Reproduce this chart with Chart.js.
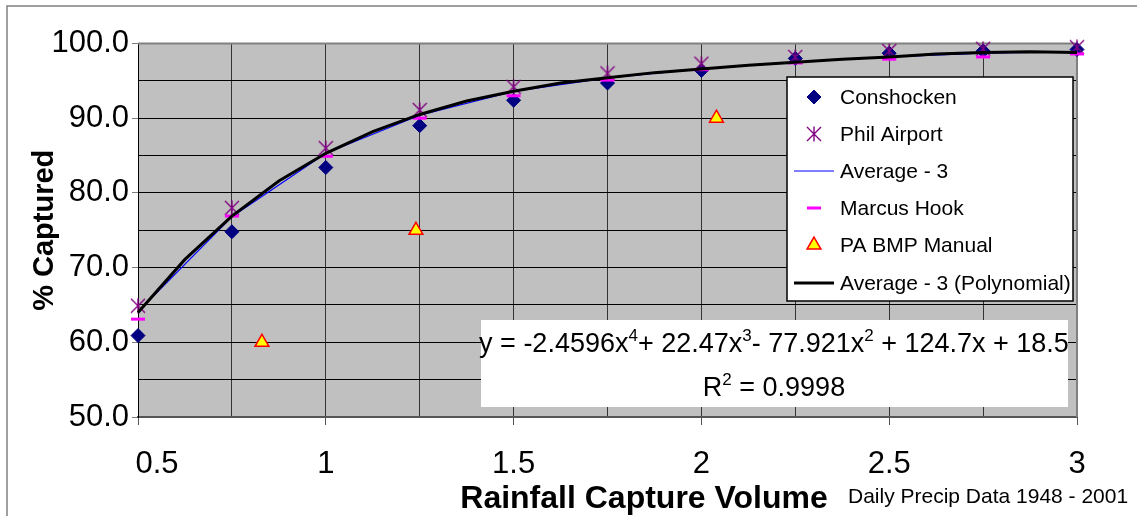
<!DOCTYPE html>
<html>
<head>
<meta charset="utf-8">
<script src="https://cdn.jsdelivr.net/npm/chart.js@4.4.1/dist/chart.umd.min.js"></script>
<style>
  html, body { margin: 0; padding: 0; background: #ffffff; }
  #wrap { width: 1137px; height: 516px; position: relative; }
</style>
</head>
<body>
<div id="wrap"><canvas id="c" width="1137" height="516"></canvas></div>
<script>
// ---- Data ----
const captureVolumes = [0.5, 0.75, 1, 1.25, 1.5, 1.75, 2, 2.25, 2.5, 2.75, 3];
const conshocken  = [60.9, 74.8, 83.4, 89.0, 92.4, 94.7, 96.4, 98.0, 98.7, 99.0, 99.2];
const philAirport = [64.9, 78.0, 86.0, 91.1, 94.2, 96.0, 97.3, 98.2, 99.0, 99.3, 99.5];
const marcusHook  = [63.1, 76.9, 84.9, 90.0, 93.0, 95.1, 96.5, 97.4, 97.9, 98.2, 98.6];
const average3    = [64.1, 76.8, 85.3, 90.4, 93.6, 95.4, 96.6, 97.5, 98.2, 98.7, 98.9];
const bmpVolumes  = [0.83, 1.24, 2.04];
const bmpManual   = [60, 75, 90];
const trendVolumes = [0.5, 0.625, 0.75, 0.875, 1, 1.125, 1.25, 1.375, 1.5, 1.625, 1.75,
                      1.875, 2, 2.125, 2.25, 2.375, 2.5, 2.625, 2.75, 2.875, 3];
const trendCaptured = [64.0, 71.1, 76.9, 81.6, 85.3, 88.2, 90.5, 92.3, 93.6, 94.7, 95.4,
                       96.1, 96.6, 97.1, 97.5, 97.9, 98.2, 98.6, 98.8, 98.9, 98.8];
const seriesNames = ['Conshocken', 'Phil Airport', 'Average - 3', 'Marcus Hook', 'PA BMP Manual', 'Average - 3 (Polynomial)'];
const yTickLabels = ['50.0', '60.0', '70.0', '80.0', '90.0', '100.0'];
const xTickLabels = ['0.5', '1', '1.5', '2', '2.5', '3'];
const xTitle = 'Rainfall Capture Volume';
const yTitle = '% Captured';
const footnote = 'Daily Precip Data 1948 - 2001';
const equationParts = [['y = -2.4596x', false], ['4', true], ['+ 22.47x', false], ['3', true],
                       ['- 77.921x', false], ['2', true], [' + 124.7x + 18.5', false]];
const rSquaredParts = [['R', false], ['2', true], [' = 0.9998', false]];

const pts = (xs, ys) => xs.map((x, i) => ({ x: x, y: ys[i] }));
const FONT = '"Liberation Sans", Arial, Helvetica, sans-serif';

// asterisk marker (vertical bar + X)
function makeAsterisk(size, color) {
  const cv = document.createElement('canvas');
  cv.width = size; cv.height = size;
  const g = cv.getContext('2d');
  g.strokeStyle = color; g.lineWidth = 1.4;
  const m = size / 2, r = size / 2 - 1;
  g.beginPath();
  g.moveTo(m, 0.5); g.lineTo(m, size - 0.5);
  g.moveTo(m - r, m - r); g.lineTo(m + r, m + r);
  g.moveTo(m + r, m - r); g.lineTo(m - r, m + r);
  g.stroke();
  return cv;
}
const asterisk = makeAsterisk(16, '#800080');

const datasets = [
  { label: seriesNames[0], data: pts(captureVolumes, conshocken), pointStyle: 'rectRot', pointRadius: 7,
    backgroundColor: '#000080', borderColor: '#000080', pointBorderWidth: 1, showLine: false, order: 5 },
  { label: seriesNames[1], data: pts(captureVolumes, philAirport), pointStyle: asterisk, pointRadius: 8,
    backgroundColor: '#800080', borderColor: '#800080', showLine: false, order: 4 },
  { label: seriesNames[2], data: pts(captureVolumes, average3), showLine: true, pointRadius: 0,
    borderColor: '#0000FF', borderWidth: 1.2, backgroundColor: '#0000FF', tension: 0, order: 1 },
  { label: seriesNames[3], data: pts(captureVolumes, marcusHook), pointStyle: 'line', pointRadius: 7,
    pointBorderWidth: 3, borderColor: '#FF00FF', backgroundColor: '#FF00FF', showLine: false, order: 3 },
  { label: seriesNames[4], data: pts(bmpVolumes, bmpManual), pointStyle: 'triangle', pointRadius: 8,
    pointBorderWidth: 1.5, borderColor: '#FF0000', backgroundColor: '#FFFF00', showLine: false, order: 2 },
  { label: seriesNames[5], data: pts(trendVolumes, trendCaptured), showLine: true, pointRadius: 0,
    borderColor: '#000000', borderWidth: 3, backgroundColor: '#000000', tension: 0, order: 0 }
];
datasets.forEach(d => { d.clip = false; d.pointHoverRadius = d.pointRadius; });

function drawRich(ctx, parts, x, y, size, align) {
  const subSize = Math.round(size * 0.62);
  let total = 0;
  parts.forEach(p => { ctx.font = (p[1] ? subSize : size) + 'px ' + FONT; total += ctx.measureText(p[0]).width; });
  let cx = align === 'center' ? x - total / 2 : x;
  ctx.textBaseline = 'alphabetic';
  ctx.textAlign = 'left';
  parts.forEach(p => {
    ctx.font = (p[1] ? subSize : size) + 'px ' + FONT;
    ctx.fillText(p[0], cx, p[1] ? y - size * 0.42 : y);
    cx += ctx.measureText(p[0]).width;
  });
}

const decorPlugin = {
  id: 'decor',
  beforeDraw(chart) {
    const { ctx, chartArea: a } = chart;
    ctx.save();
    ctx.fillStyle = '#ffffff';
    ctx.fillRect(0, 0, chart.width, chart.height);
    // outer frame
    ctx.strokeStyle = '#808080'; ctx.lineWidth = 1.5;
    ctx.beginPath(); ctx.moveTo(7, chart.height); ctx.lineTo(7, 6); ctx.lineTo(chart.width, 6); ctx.stroke();
    // plot background
    ctx.fillStyle = '#C0C0C0';
    ctx.fillRect(a.left, a.top, a.right - a.left, a.bottom - a.top);
    ctx.restore();
    // first x label sits to the right of the axis corner, as in the reference
    const xs = chart.scales.x;
    const items = xs.getLabelItems ? xs.getLabelItems() : null;
    if (items && items.length && items[0].options && items[0].options.translation && !items[0]._shifted) {
      items[0].options.translation[0] += 19;
      items[0]._shifted = true;
    }
  },
  beforeDatasetsDraw(chart) {
    const { ctx, chartArea: a } = chart;
    ctx.save();
    ctx.strokeStyle = '#808080'; ctx.lineWidth = 2;
    ctx.beginPath(); ctx.moveTo(a.left, a.top); ctx.lineTo(a.right, a.top); ctx.lineTo(a.right, a.bottom); ctx.stroke();
    // equation box
    ctx.fillStyle = '#ffffff';
    ctx.fillRect(481, 320, 587, 87);
    ctx.fillStyle = '#000000';
    drawRich(ctx, equationParts, 774, 352, 27, 'center');
    drawRich(ctx, rSquaredParts, 774, 396, 27, 'center');
    ctx.restore();
  },
  afterDatasetsDraw(chart) {
    const { ctx } = chart;
    ctx.save();
    // legend box
    const L = 787, T = 77, R = 1073, B = 301;
    ctx.fillStyle = '#ffffff'; ctx.fillRect(L, T, R - L, B - T);
    ctx.strokeStyle = '#000000'; ctx.lineWidth = 1.5; ctx.strokeRect(L, T, R - L, B - T);
    const rowY = [97, 134, 171, 208, 245, 283];
    chart.data.datasets.forEach((ds, i) => {
      const y = rowY[i];
      if (ds.showLine) {
        ctx.strokeStyle = ds.borderColor; ctx.lineWidth = ds.borderWidth;
        ctx.beginPath(); ctx.moveTo(794, y); ctx.lineTo(834, y); ctx.stroke();
      } else {
        ctx.fillStyle = ds.backgroundColor; ctx.strokeStyle = ds.borderColor;
        ctx.lineWidth = ds.pointBorderWidth || 1;
        Chart.helpers.drawPoint(ctx, { pointStyle: ds.pointStyle, radius: ds.pointRadius, rotation: 0, borderWidth: ds.pointBorderWidth || 1 }, 814, y);
      }
      ctx.fillStyle = '#000000';
      ctx.font = '21px ' + FONT; ctx.textAlign = 'left'; ctx.textBaseline = 'middle';
      ctx.fillText(ds.label, 840, y + 1);
    });
    // x title and footnote
    ctx.fillStyle = '#000000';
    ctx.textAlign = 'center'; ctx.textBaseline = 'alphabetic';
    ctx.font = 'bold 32px ' + FONT;
    ctx.fillText(xTitle, 644, 508);
    ctx.textAlign = 'left';
    ctx.font = '21px ' + FONT;
    ctx.fillText(footnote, 848, 503);
    ctx.restore();
  }
};

const fmtX = v => { const i = xTickLabels.indexOf(String(Math.round(v * 100) / 100)); return i >= 0 ? xTickLabels[i] : ''; };
const fmtY = v => { const i = yTickLabels.indexOf(Number(v).toFixed(1)); return i >= 0 ? yTickLabels[i] : ''; };

new Chart(document.getElementById('c').getContext('2d'), {
  type: 'scatter',
  data: { datasets: datasets },
  options: {
    responsive: false,
    animation: false,
    devicePixelRatio: 1,
    layout: { padding: { top: 43.5, right: 60, left: 0, bottom: 0 } },
    plugins: { legend: { display: false }, tooltip: { enabled: false }, title: { display: false } },
    scales: {
      x: {
        type: 'linear', min: 0.5, max: 3,
        afterFit: s => { s.height = 99; },
        ticks: { stepSize: 0.25, autoSkip: false, maxRotation: 0, padding: 21, color: '#000000',
                 font: { family: FONT, size: 31 }, callback: fmtX },
        grid: { color: '#333333', lineWidth: 1, drawTicks: true, tickLength: 8,
                tickColor: c => (fmtX(c.tick.value) ? '#555555' : 'rgba(0,0,0,0)') },
        border: { color: '#555555', width: 2 }
      },
      y: {
        type: 'linear', min: 50, max: 100,
        afterFit: s => { s.width = 138; },
        ticks: { stepSize: 5, autoSkip: false, padding: 3, color: '#000000',
                 font: { family: FONT, size: 31 }, callback: fmtY },
        grid: { color: '#000000', lineWidth: 1, drawTicks: true, tickLength: 6,
                tickColor: c => (fmtY(c.tick.value) ? '#808080' : 'rgba(0,0,0,0)') },
        border: { color: '#000000', width: 1 },
        title: { display: true, text: yTitle, color: '#000000',
                 font: { family: FONT, size: 29, weight: 'bold', lineHeight: 1.2 }, padding: { top: 28, bottom: 0 } }
      }
    }
  },
  plugins: [decorPlugin]
});
</script>
</body>
</html>
